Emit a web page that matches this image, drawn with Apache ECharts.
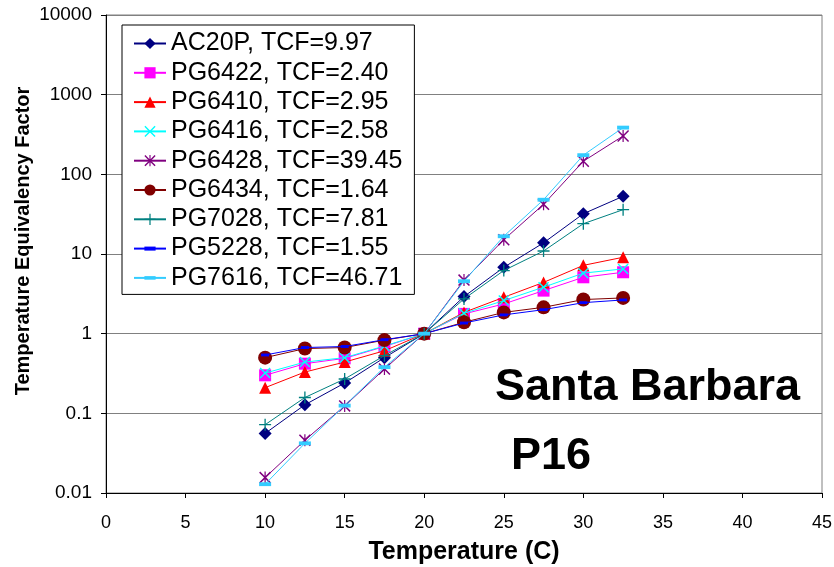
<!DOCTYPE html>
<html>
<head>
<meta charset="utf-8">
<script src="https://cdn.jsdelivr.net/npm/echarts@6/dist/echarts.min.js"></script>
<style>html,body{margin:0;padding:0;background:#fff}#c{width:834px;height:567px}</style>
</head>
<body>
<div id="c"></div>
<script>
const temps = [10, 12.5, 15, 17.5, 20, 22.5, 25, 27.5, 30, 32.5];
const seriesNames = ['AC20P, TCF=9.97','PG6422, TCF=2.40','PG6410, TCF=2.95','PG6416, TCF=2.58','PG6428, TCF=39.45','PG6434, TCF=1.64','PG7028, TCF=7.81','PG5228, TCF=1.55','PG7616, TCF=46.71'];
const AC20P  = [0.056, 0.128, 0.24, 0.50, 1, 2.92, 6.8, 13.8, 32, 53];
const PG6422 = [0.30, 0.42, 0.49, 0.69, 1, 1.77, 2.36, 3.47, 5.1, 5.9];
const PG6410 = [0.21, 0.33, 0.44, 0.61, 1, 1.85, 2.86, 4.4, 7.2, 9.1];
const PG6416 = [0.32, 0.44, 0.50, 0.70, 1, 1.8, 2.6, 3.83, 5.75, 6.5];
const PG6428 = [0.0156, 0.046, 0.124, 0.36, 1, 4.7, 15.1, 42, 146, 303];
const PG6434 = [0.50, 0.65, 0.67, 0.83, 1, 1.39, 1.85, 2.14, 2.68, 2.81];
const PG7028 = [0.072, 0.158, 0.27, 0.53, 1, 2.73, 6.2, 10.9, 24, 36];
const PG5228 = [0.54, 0.67, 0.69, 0.84, 1, 1.36, 1.72, 2.0, 2.45, 2.65];
const PG7616 = [0.0129, 0.042, 0.125, 0.38, 1, 4.55, 16.7, 48, 174, 386];
const yTickLabels = ['0.01','0.1','1','10','100','1000','10000'];
const xTickLabels = ['0','5','10','15','20','25','30','35','40','45'];

const FONT = "'Liberation Sans', Arial, sans-serif";
const X_PATH = 'path://M0,0.9L0.9,0L5,4.1L9.1,0L10,0.9L5.9,5L10,9.1L9.1,10L5,5.9L0.9,10L0,9.1L4.1,5Z';
const AST_PATH = 'path://M0,0.9L0.9,0L5,4.1L9.1,0L10,0.9L5.9,5L10,9.1L9.1,10L5,5.9L0.9,10L0,9.1L4.1,5Z M4.5,0L5.5,0L5.5,10L4.5,10Z';
const PLUS_PATH = 'path://M4.45,0H5.55V4.45H10V5.55H5.55V10H4.45V5.55H0V4.45H4.45Z';
// dash symbols kept in a square box (degenerate corner segments fix the bounding box)
const DASH_THIN = 'path://M0,0L0,0M0,3.2H10V6.8H0Z M10,10L10,10';
const DASH_WIDE = 'path://M0,0L0,0M0,3.4H10V6.6H0Z M10,10L10,10';

const styles = [
  {data: AC20P,  color: '#000080', symbol: 'diamond', size: 13},
  {data: PG6422, color: '#FF00FF', symbol: 'rect', size: 12},
  {data: PG6410, color: '#FF0000', symbol: 'triangle', size: 12},
  {data: PG6416, color: '#00FFFF', symbol: X_PATH, size: 11},
  {data: PG6428, color: '#800080', symbol: AST_PATH, size: 12},
  {data: PG6434, color: '#800000', symbol: 'circle', size: 14},
  {data: PG7028, color: '#008080', symbol: PLUS_PATH, size: 12},
  {data: PG5228, color: '#0000FF', symbol: DASH_THIN, size: 8},
  {data: PG7616, color: '#33CCFF', symbol: DASH_WIDE, size: 12}
];

const series = styles.map((s, i) => ({
  name: seriesNames[i],
  type: 'line',
  data: temps.map((t, j) => [t, s.data[j]]),
  symbol: s.symbol,
  symbolSize: s.size,
  showAllSymbol: true,
  lineStyle: {color: s.color, width: 1},
  itemStyle: {color: s.color},
  emphasis: {disabled: true},
  z: 2 + i
}));

const chart = echarts.init(document.getElementById('c'));
chart.setOption({
  animation: false,
  backgroundColor: '#fff',
  textStyle: {fontFamily: FONT},
  grid: {left: 106, right: 12, top: 15, bottom: 74, show: true, borderColor: '#808080', borderWidth: 1,
         backgroundColor: 'transparent', containLabel: false, outerBoundsMode: 'none'},
  legend: {
    orient: 'vertical',
    left: 122, top: 25,
    padding: [6, 12, 4, 11],
    itemWidth: 32, itemHeight: 14, itemGap: 4.3,
    borderColor: '#000', borderWidth: 1, backgroundColor: '#fff',
    textStyle: {fontFamily: FONT, fontSize: 25, color: '#000'},
    data: seriesNames
  },
  xAxis: {
    type: 'value', min: 0, max: 45, interval: 5,
    name: 'Temperature (C)', nameLocation: 'middle', nameGap: 47,
    nameTextStyle: {fontFamily: FONT, fontSize: 25, fontWeight: 'bold', color: '#000'},
    axisLine: {onZero: false, lineStyle: {color: '#000', width: 1}},
    axisTick: {show: true, length: 5, lineStyle: {color: '#000'}},
    axisLabel: {color: '#000', fontSize: 18, fontFamily: FONT, margin: 21,
      formatter: (v) => xTickLabels[Math.round(v / 5)]},
    splitLine: {show: false}
  },
  yAxis: {
    type: 'log', logBase: 10, min: 0.01, max: 10000,
    axisLine: {show: true, lineStyle: {color: '#000', width: 1}},
    axisTick: {show: true, length: 5, lineStyle: {color: '#000'}},
    axisLabel: {color: '#000', fontSize: 19, fontFamily: FONT, margin: 14,
      formatter: (v) => yTickLabels[Math.round(Math.log10(v)) + 2]},
    splitLine: {show: true, lineStyle: {color: '#808080', width: 1}},
    minorTick: {show: false}
  },
  graphic: [
    {type: 'text', z: 10, rotation: Math.PI / 2, x: 23, y: 241,
     style: {text: 'Temperature Equivalency Factor', font: "bold 20px " + FONT, fill: '#000', textAlign: 'center', textVerticalAlign: 'middle'}},
    {type: 'text', z: 10, x: 495, y: 388,
     style: {text: 'Santa Barbara', font: "bold 45px " + FONT, fill: '#000', textAlign: 'left', textVerticalAlign: 'middle'}},
    {type: 'text', z: 10, x: 511, y: 457,
     style: {text: 'P16', font: "bold 45px " + FONT, fill: '#000', textAlign: 'left', textVerticalAlign: 'middle'}}
  ],
  series: series
});
</script>
</body>
</html>
